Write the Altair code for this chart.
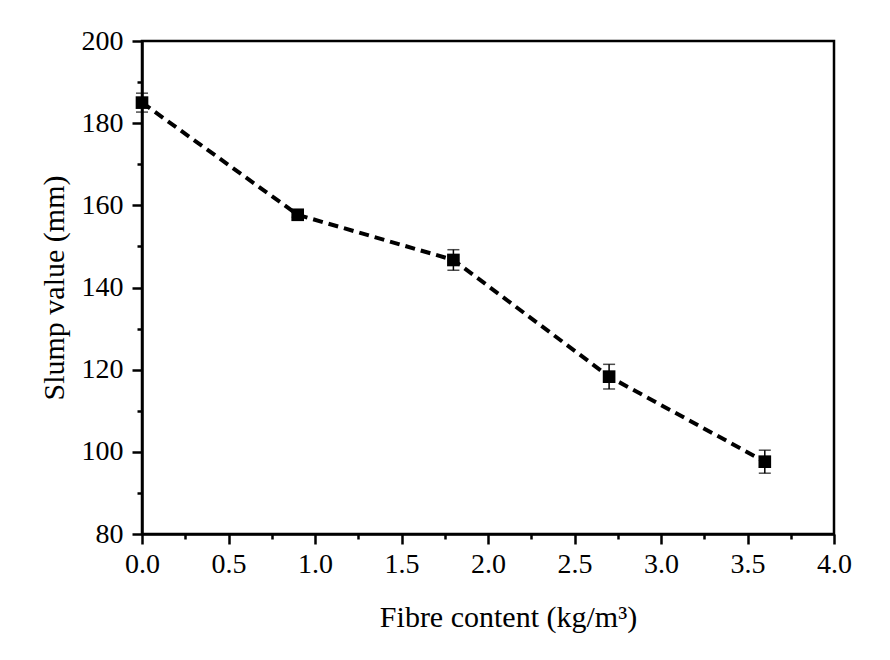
import altair as alt
import pandas as pd

fibre = [0.0, 0.9, 1.8, 2.7, 3.6]
slump = [185.0, 157.7, 146.7, 118.3, 97.6]
err = [2.3, 0.6, 2.5, 3.0, 2.8]

x_all = [i * 0.25 for i in range(17)]
y_all = [80 + 10 * i for i in range(13)]

df = pd.DataFrame({"fibre": fibre, "slump": slump, "err": err})
df["lo"] = df["slump"] - df["err"]
df["hi"] = df["slump"] + df["err"]

FONT = "Liberation Serif"
YTITLE = "Slump value (mm)"
XTITLE = "Fibre content (kg/m³)"

xax = alt.Axis(
    values=x_all,
    labelExpr="datum.value % 0.5 == 0 ? format(datum.value, '.1f') : ''",
    tickSize={"condition": {"test": "datum.value % 0.5 != 0", "value": 5}, "value": 10},
    title=XTITLE,
    grid=False,
    labelFlush=False,
    labelPadding=6,
    titlePadding=24,
    titleX=366,
)
yax = alt.Axis(
    values=y_all,
    labelExpr="datum.value % 20 == 0 ? format(datum.value, 'd') : ''",
    tickSize={"condition": {"test": "datum.value % 20 != 0", "value": 5}, "value": 10},
    title=YTITLE,
    grid=False,
    labelFlush=False,
    labelPadding=9,
    titlePadding=12,
)

xs = alt.Scale(domain=[0, 4], nice=False, zero=False)
ys = alt.Scale(domain=[80, 200], nice=False, zero=False)

base = alt.Chart(df)

line = base.mark_line(color="black", strokeWidth=4, strokeDash=[10, 6]).encode(
    x=alt.X("fibre:Q", scale=xs, axis=xax),
    y=alt.Y("slump:Q", scale=ys, axis=yax),
)

bars = base.mark_errorbar(ticks=alt.MarkConfig(size=12, strokeWidth=1.5), color="black", thickness=1.5).encode(
    x=alt.X("fibre:Q", scale=xs, axis=xax),
    y=alt.Y("lo:Q", scale=ys, axis=yax, title=YTITLE),
    y2="hi:Q",
)

pts = base.mark_point(shape="square", filled=True, size=160, color="black", opacity=1).encode(
    x=alt.X("fibre:Q", scale=xs, axis=xax),
    y=alt.Y("slump:Q", scale=ys, axis=yax),
)

chart = (
    alt.layer(line, bars, pts)
    .properties(
        width=692,
        height=493,
        autosize=alt.AutoSizeParams(type="none"),
        padding={"left": 134, "top": 33, "right": 40, "bottom": 110},
    )
    .configure_view(stroke="black", strokeWidth=2.5)
    .configure_axis(
        domainColor="black",
        domainWidth=2.5,
        tickColor="black",
        tickWidth=2.5,
        labelFont=FONT,
        labelFontSize=28,
        labelColor="black",
        titleFont=FONT,
        titleFontSize=30,
        titleFontWeight="normal",
        titleColor="black",
    )
)

chart.save("out.html", embed_options={"renderer": "svg", "actions": False})
